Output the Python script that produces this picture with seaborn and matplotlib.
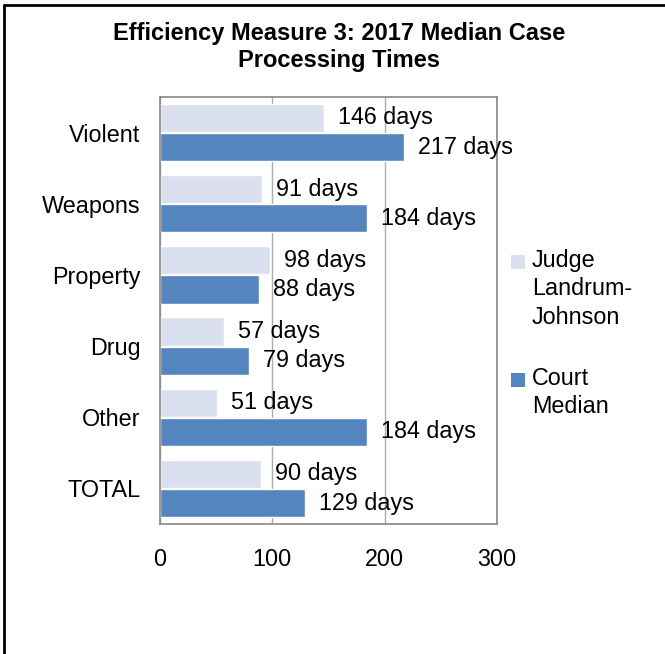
import matplotlib
matplotlib.use("Agg")
import matplotlib.pyplot as plt
import seaborn as sns
import pandas as pd
from matplotlib.patches import Rectangle
from matplotlib.lines import Line2D

categories = ["Violent", "Weapons", "Property", "Drug", "Other", "TOTAL"]
judge_days = [146, 91, 98, 57, 51, 90]
court_days = [217, 184, 88, 79, 184, 129]
series_names = ["Judge\nLandrum-\nJohnson", "Court\nMedian"]
x_ticks = [0, 100, 200, 300]
title = "Efficiency Measure 3: 2017 Median Case\nProcessing Times"

light = "#DAE0F0"
dark = "#5585BE"

df = pd.DataFrame({
    "category": categories * 2,
    "days": judge_days + court_days,
    "series": [series_names[0]] * len(categories) + [series_names[1]] * len(categories),
})

sns.set_style("white")
plt.rcParams["font.family"] = ["Liberation Sans", "DejaVu Sans"]
plt.rcParams["text.color"] = "black"
plt.rcParams["xtick.labelcolor"] = "black"
plt.rcParams["ytick.labelcolor"] = "black"

FS = 16.8

fig = plt.figure(figsize=(6.65, 6.54), dpi=100)
ax = fig.add_axes([160/665, 1-524/654, (497-160)/665, (524-97)/654])

sns.barplot(data=df, y="category", x="days", hue="series", orient="h",
            palette=[light, dark], width=0.82, gap=0.03, ax=ax, legend=False,
            saturation=1)

ax.set_xlim(0, 300)
ax.set_ylim(5.5, -0.5)
ax.set_xticks(x_ticks)
ax.set_xticklabels([str(t) for t in x_ticks], fontsize=FS)
ax.set_xlabel("")
ax.set_ylabel("")
ax.set_yticks(range(len(categories)))
ax.set_yticklabels(categories, fontsize=FS)
ax.set_yticks([i - 0.5 for i in range(len(categories) + 1)], minor=True)
ax.tick_params(axis="y", which="major", length=0, pad=14)
ax.tick_params(axis="y", which="minor", length=5, color="#888888", direction="out")
ax.tick_params(axis="x", which="major", length=5, color="#888888", direction="out", pad=12)
ax.grid(axis="x", color="#ADADAD", linewidth=1)
ax.set_axisbelow(True)
for s in ax.spines.values():
    s.set_color("#888888")
    s.set_linewidth(1.2)

for cont in ax.containers:
    labels = [f"{int(v)} days" for v in cont.datavalues]
    ax.bar_label(cont, labels=labels, padding=10, fontsize=FS, clip_on=False)

fig.text(0.51, 1-47/654, title, ha="center", va="center", fontsize=17,
         fontweight="bold", linespacing=1.2)

# legend (handle aligned with the first line of each label, as in the reference)
legend_items = [(light, 262, series_names[0]), (dark, 380, series_names[1])]
for color, yc, label in legend_items:
    fig.add_artist(Rectangle((511/665, 1-(yc+7)/654), 14/665, 14/654,
                             transform=fig.transFigure, facecolor=color, edgecolor="none"))
    fig.text(532/665, 1-(yc-13)/654, label, ha="left", va="top", fontsize=FS,
             linespacing=1.3)

fig.add_artist(Line2D([4/665, 4/665], [0, 1-5/654], transform=fig.transFigure, color="black", linewidth=2))
fig.add_artist(Line2D([4/665, 1], [1-5/654, 1-5/654], transform=fig.transFigure, color="black", linewidth=2))

fig.savefig("out.png", dpi=100)
